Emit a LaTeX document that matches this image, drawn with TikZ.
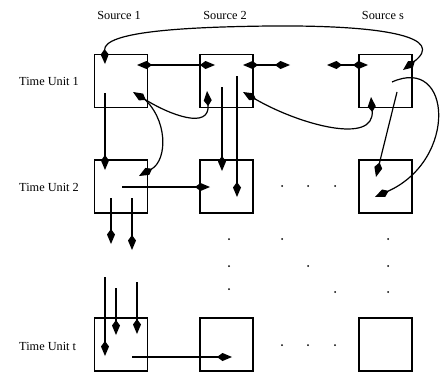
\documentclass[tikz,border=0pt]{standalone}
\usepackage{fontspec}
\setmainfont{Liberation Serif}
\usetikzlibrary{arrows.meta}
\begin{document}
\begin{tikzpicture}[x=1pt,y=-1pt,
  >={Kite[length=15pt,width=8pt,inset=5.5pt]},
  cell/.style={draw, line width=1.2pt, minimum width=53pt, minimum height=53pt, inner sep=0pt},
  conn/.style={line width=1.2pt},
  lbl/.style={font=\fontsize{12.3}{14}\selectfont, inner sep=0pt},
  dot/.style={fill=black}]
\useasboundingbox (0,0) rectangle (440,372);

% column and row headings
\node[lbl] (s1) at (119,15) {Source 1};
\node[lbl] (s2) at (225,15) {Source 2};
\node[lbl] (ss) at (383,15) {Source s};
\node[lbl, anchor=west] (r1) at (19,81) {Time Unit 1};
\node[lbl, anchor=west] (r2) at (19,187) {Time Unit 2};
\node[lbl, anchor=west] (rt) at (19,346) {Time Unit t};

% grid of cells
\node[cell] (b11) at (121,81) {};
\node[cell] (b12) at (226.5,81) {};
\node[cell] (b1s) at (385.5,81) {};
\node[cell] (b21) at (121,186.5) {};
\node[cell] (b22) at (226.5,186.5) {};
\node[cell] (b2s) at (385.5,186.5) {};
\node[cell] (bt1) at (121,344.5) {};
\node[cell] (bt2) at (226.5,344.5) {};
\node[cell] (bts) at (385.5,344.5) {};

% connector end points
\coordinate (h1a) at (137,65);  \coordinate (h1b) at (215,65);
\coordinate (h2a) at (243,65);  \coordinate (h2b) at (290,65);
\coordinate (h3a) at (327,65);  \coordinate (h3b) at (368,65);
\coordinate (topA) at (105,64); \coordinate (topB) at (403,70);
\coordinate (v1a) at (105,93);  \coordinate (v1b) at (105,170);
\coordinate (cbA) at (142,97);  \coordinate (cbB) at (139,176);
\coordinate (caA) at (133,92);  \coordinate (caB) at (207,91);
\coordinate (ccA) at (243,92);  \coordinate (ccB) at (371,97);
\coordinate (rcA) at (392,82);  \coordinate (rcB) at (375,197);
\coordinate (dsA) at (397,92);  \coordinate (dsB) at (376,177);
\coordinate (d2a) at (222,87);  \coordinate (d2b) at (222,171);
\coordinate (d3a) at (237,76);  \coordinate (d3b) at (237,197);
\coordinate (r2a) at (122,187); \coordinate (r2b) at (210,187);
\coordinate (o1a) at (111,198); \coordinate (o1b) at (111,244);
\coordinate (o2a) at (132,198); \coordinate (o2b) at (132,250);
\coordinate (i1a) at (105,277); \coordinate (i1b) at (105,356);
\coordinate (i2a) at (116,288); \coordinate (i2b) at (116,335);
\coordinate (i3a) at (137,282); \coordinate (i3b) at (137,334);
\coordinate (rtA) at (132,357); \coordinate (rtB) at (232,357);

% first time unit
\draw[conn,<->] (h1a) -- (h1b);
\draw[conn,<->] (h2a) -- (h2b);
\draw[conn,<->] (h3a) -- (h3b);
\draw[conn,<->] (topA) .. controls (104,32) and (180,27) .. (270,26)
                       .. controls (390,25) and (445,38) .. (topB);
\draw[conn,->] (v1a) -- (v1b);
\draw[conn,->] (cbA) .. controls (168,118) and (168,160) .. (cbB);
\draw[conn,<->] (caA) .. controls (170,115) and (210,130) .. (caB);
\draw[conn,<->] (ccA) .. controls (300,125) and (375,145) .. (ccB);
\draw[conn,->] (rcA) .. controls (452,55) and (458,160) .. (rcB);
\draw[conn,->] (dsA) -- (dsB);
\draw[conn,->] (d2a) -- (d2b);
\draw[conn,->] (d3a) -- (d3b);

% second time unit
\draw[conn,->] (r2a) -- (r2b);
\draw[conn,->] (o1a) -- (o1b);
\draw[conn,->] (o2a) -- (o2b);

% last time unit
\draw[conn,->] (i1a) -- (i1b);
\draw[conn,->] (i2a) -- (i2b);
\draw[conn,->] (i3a) -- (i3b);
\draw[conn,->] (rtA) -- (rtB);

% ellipsis dots
\foreach \p in {(282,186),(308,186),(335,186),
                (229,239),(282,239),(388,239),
                (229,266),(308,266),(388,266),
                (229,289),(335,292),(388,292),
                (282,345),(308,345),(335,345)}
  \fill[dot] \p circle (1pt);
\end{tikzpicture}
\end{document}
